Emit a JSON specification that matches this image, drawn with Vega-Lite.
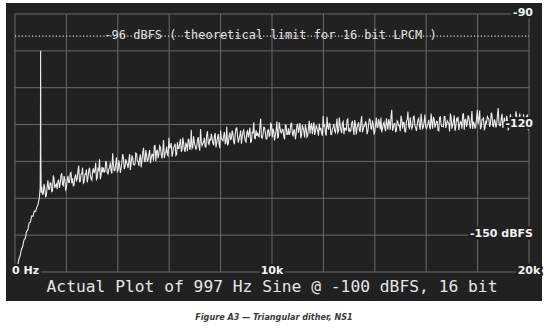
{
  "$schema": "https://vega.github.io/schema/vega-lite/v6.json",
  "width": 536,
  "height": 298,
  "autosize": {"type": "none"},
  "padding": {"left": 6, "top": 3, "right": 8, "bottom": 29},
  "background": "#ffffff",
  "view": {"fill": "#212121", "stroke": null},
  "title": {
    "text": "Figure A3 — Triangular dither, NS1",
    "orient": "bottom",
    "anchor": "middle",
    "baseline": "alphabetic",
    "offset": 19,
    "font": "Liberation Sans Narrow, DejaVu Sans Condensed, sans-serif",
    "fontStyle": "italic",
    "fontWeight": "bold",
    "fontSize": 9,
    "color": "#3a3a3a"
  },
  "datasets": {
    "gx": [{"g":0},{"g":2000},{"g":4000},{"g":6000},{"g":8000},{"g":10000},{"g":12000},{"g":14000},{"g":16000},{"g":18000},{"g":20000}],
    "gy": [{"g":-160},{"g":-150},{"g":-140},{"g":-130},{"g":-120},{"g":-110},{"g":-100},{"g":-90}],
    "rlab": [{"t":"-90","d":-90},{"t":"-120","d":-120},{"t":"-150 dBFS","d":-150}],
    "blab": [{"t":"10k","f":10000},{"t":"20k","f":20000}],
    "zlab": [{"t":"0 Hz","f":0}],
    "spec": [
      {"f":0,"d":-159.8},{"f":50,"d":-159.2},{"f":100,"d":-158.3},{"f":150,"d":-156.6},{"f":200,"d":-155.6},{"f":250,"d":-153.9},{"f":300,"d":-153.1},{"f":350,"d":-151.3},{"f":400,"d":-150.9},{"f":450,"d":-149.0},{"f":500,"d":-148.6},{"f":550,"d":-146.7},{"f":600,"d":-146.4},{"f":650,"d":-144.8},{"f":700,"d":-144.9},{"f":750,"d":-143.5},{"f":800,"d":-143.6},{"f":850,"d":-142.4},{"f":900,"d":-141.6},{"f":950,"d":-139.8},{"f":980,"d":-137.0},{"f":990,"d":-125.0},{"f":997,"d":-100.0},{"f":1005,"d":-128.0},{"f":1020,"d":-138.5},
      {"f":1040,"d":-136.8},{"f":1100,"d":-138.8},{"f":1160,"d":-137.2},{"f":1220,"d":-139.2},{"f":1280,"d":-135.1},{"f":1340,"d":-137.6},{"f":1400,"d":-135.9},{"f":1460,"d":-138.0},{"f":1520,"d":-134.8},{"f":1580,"d":-136.5},
      {"f":1640,"d":-137.5},{"f":1700,"d":-135.1},{"f":1760,"d":-136.0},{"f":1820,"d":-133.2},{"f":1880,"d":-136.6},{"f":1940,"d":-134.9},{"f":2000,"d":-137.3},{"f":2060,"d":-133.9},{"f":2120,"d":-135.7},{"f":2180,"d":-133.0},
      {"f":2240,"d":-134.6},{"f":2300,"d":-136.4},{"f":2360,"d":-133.5},{"f":2420,"d":-134.8},{"f":2480,"d":-131.1},{"f":2540,"d":-135.4},{"f":2600,"d":-133.4},{"f":2660,"d":-135.9},{"f":2720,"d":-133.5},{"f":2780,"d":-132.2},
      {"f":2840,"d":-134.5},{"f":2900,"d":-131.7},{"f":2960,"d":-134.7},{"f":3020,"d":-132.6},{"f":3080,"d":-133.2},{"f":3140,"d":-130.4},{"f":3200,"d":-134.5},{"f":3260,"d":-132.4},{"f":3320,"d":-134.8},{"f":3380,"d":-131.5},
      {"f":3440,"d":-131.7},{"f":3500,"d":-132.8},{"f":3560,"d":-130.2},{"f":3620,"d":-133.4},{"f":3680,"d":-131.7},{"f":3740,"d":-132.6},{"f":3800,"d":-127.8},{"f":3860,"d":-132.5},{"f":3920,"d":-130.5},{"f":3980,"d":-132.8},
      {"f":4040,"d":-129.7},{"f":4100,"d":-133.1},{"f":4160,"d":-130.2},{"f":4220,"d":-129.0},{"f":4280,"d":-131.5},{"f":4340,"d":-130.2},{"f":4400,"d":-131.8},{"f":4460,"d":-128.0},{"f":4520,"d":-130.5},{"f":4580,"d":-129.1},
      {"f":4640,"d":-131.0},{"f":4700,"d":-127.7},{"f":4760,"d":-129.8},{"f":4820,"d":-131.2},{"f":4880,"d":-128.1},{"f":4940,"d":-129.8},{"f":5000,"d":-126.3},{"f":5060,"d":-130.2},{"f":5120,"d":-128.3},{"f":5180,"d":-129.5},
      {"f":5240,"d":-126.9},{"f":5300,"d":-129.1},{"f":5360,"d":-128.1},{"f":5420,"d":-125.8},{"f":5480,"d":-129.9},{"f":5540,"d":-127.0},{"f":5600,"d":-127.9},{"f":5660,"d":-126.2},{"f":5720,"d":-129.2},{"f":5780,"d":-124.2},
      {"f":5840,"d":-127.8},{"f":5900,"d":-126.0},{"f":5960,"d":-128.5},{"f":6020,"d":-126.5},{"f":6080,"d":-125.0},{"f":6140,"d":-127.8},{"f":6200,"d":-125.9},{"f":6260,"d":-128.4},{"f":6320,"d":-124.8},{"f":6380,"d":-126.5},
      {"f":6440,"d":-123.9},{"f":6500,"d":-126.8},{"f":6560,"d":-125.0},{"f":6620,"d":-127.4},{"f":6680,"d":-125.4},{"f":6740,"d":-124.0},{"f":6800,"d":-126.8},{"f":6860,"d":-121.4},{"f":6920,"d":-126.1},{"f":6980,"d":-124.9},
      {"f":7040,"d":-126.8},{"f":7100,"d":-124.2},{"f":7160,"d":-126.0},{"f":7220,"d":-121.2},{"f":7280,"d":-125.7},{"f":7340,"d":-124.6},{"f":7400,"d":-126.1},{"f":7460,"d":-122.7},{"f":7520,"d":-125.1},{"f":7580,"d":-123.8},
      {"f":7640,"d":-122.5},{"f":7700,"d":-125.0},{"f":7760,"d":-123.0},{"f":7820,"d":-126.2},{"f":7880,"d":-123.6},{"f":7940,"d":-125.2},{"f":8000,"d":-121.6},{"f":8060,"d":-124.1},{"f":8120,"d":-123.0},{"f":8180,"d":-125.3},
      {"f":8240,"d":-120.6},{"f":8300,"d":-125.3},{"f":8360,"d":-122.2},{"f":8420,"d":-123.7},{"f":8480,"d":-122.6},{"f":8540,"d":-125.3},{"f":8600,"d":-121.0},{"f":8660,"d":-123.2},{"f":8720,"d":-123.9},{"f":8780,"d":-121.6},
      {"f":8840,"d":-123.4},{"f":8900,"d":-121.5},{"f":8960,"d":-124.4},{"f":9020,"d":-122.1},{"f":9080,"d":-123.5},{"f":9140,"d":-120.8},{"f":9200,"d":-124.6},{"f":9260,"d":-122.4},{"f":9320,"d":-123.7},{"f":9380,"d":-121.5},
      {"f":9440,"d":-122.2},{"f":9500,"d":-123.3},{"f":9560,"d":-118.4},{"f":9620,"d":-123.7},{"f":9680,"d":-120.7},{"f":9740,"d":-122.1},{"f":9800,"d":-123.9},{"f":9860,"d":-121.4},{"f":9920,"d":-123.0},{"f":9980,"d":-120.0},
      {"f":10040,"d":-121.1},{"f":10100,"d":-124.3},{"f":10160,"d":-121.6},{"f":10220,"d":-123.6},{"f":10280,"d":-119.4},{"f":10340,"d":-122.1},{"f":10400,"d":-121.3},{"f":10460,"d":-123.2},{"f":10520,"d":-120.1},{"f":10580,"d":-122.7},
      {"f":10640,"d":-121.0},{"f":10700,"d":-122.2},{"f":10760,"d":-119.5},{"f":10820,"d":-123.2},{"f":10880,"d":-121.4},{"f":10940,"d":-122.6},{"f":11000,"d":-119.9},{"f":11060,"d":-121.0},{"f":11120,"d":-123.7},{"f":11180,"d":-120.1},
      {"f":11240,"d":-121.8},{"f":11300,"d":-120.0},{"f":11360,"d":-123.4},{"f":11420,"d":-120.8},{"f":11480,"d":-122.5},{"f":11540,"d":-119.6},{"f":11600,"d":-120.9},{"f":11660,"d":-122.8},{"f":11720,"d":-120.2},{"f":11780,"d":-121.8},
      {"f":11840,"d":-119.7},{"f":11900,"d":-120.9},{"f":11960,"d":-123.0},{"f":12020,"d":-120.4},{"f":12080,"d":-122.3},{"f":12140,"d":-117.9},{"f":12200,"d":-121.4},{"f":12260,"d":-119.9},{"f":12320,"d":-122.7},{"f":12380,"d":-120.7},
      {"f":12440,"d":-121.8},{"f":12500,"d":-120.4},{"f":12560,"d":-122.2},{"f":12620,"d":-118.1},{"f":12680,"d":-121.4},{"f":12740,"d":-119.6},{"f":12800,"d":-122.6},{"f":12860,"d":-121.0},{"f":12920,"d":-118.7},{"f":12980,"d":-121.9},
      {"f":13040,"d":-121.9},{"f":13100,"d":-119.7},{"f":13160,"d":-121.1},{"f":13220,"d":-118.8},{"f":13280,"d":-122.7},{"f":13340,"d":-120.0},{"f":13400,"d":-121.5},{"f":13460,"d":-119.1},{"f":13520,"d":-122.1},{"f":13580,"d":-120.2},
      {"f":13640,"d":-119.1},{"f":13700,"d":-122.6},{"f":13760,"d":-119.9},{"f":13820,"d":-118.7},{"f":13880,"d":-121.3},{"f":13940,"d":-120.1},{"f":14000,"d":-121.9},{"f":14060,"d":-118.1},{"f":14120,"d":-120.7},{"f":14180,"d":-119.5},
      {"f":14240,"d":-118.1},{"f":14300,"d":-121.1},{"f":14360,"d":-119.4},{"f":14420,"d":-121.8},{"f":14480,"d":-119.9},{"f":14540,"d":-118.5},{"f":14600,"d":-121.4},{"f":14660,"d":-116.0},{"f":14720,"d":-120.8},{"f":14780,"d":-119.7},
      {"f":14840,"d":-121.6},{"f":14900,"d":-119.3},{"f":14960,"d":-120.3},{"f":15020,"d":-117.6},{"f":15080,"d":-121.1},{"f":15140,"d":-119.5},{"f":15200,"d":-122.0},{"f":15260,"d":-118.6},{"f":15320,"d":-120.6},{"f":15380,"d":-118.0},
      {"f":15440,"d":-121.1},{"f":15500,"d":-117.9},{"f":15560,"d":-120.2},{"f":15620,"d":-121.7},{"f":15680,"d":-118.7},{"f":15740,"d":-120.5},{"f":15800,"d":-117.1},{"f":15860,"d":-121.1},{"f":15920,"d":-119.3},{"f":15980,"d":-120.7},
      {"f":16040,"d":-120.4},{"f":16100,"d":-118.7},{"f":16160,"d":-121.3},{"f":16220,"d":-119.3},{"f":16280,"d":-117.9},{"f":16340,"d":-120.8},{"f":16400,"d":-119.1},{"f":16460,"d":-121.6},{"f":16520,"d":-118.1},{"f":16580,"d":-119.9},
      {"f":16640,"d":-120.5},{"f":16700,"d":-117.8},{"f":16760,"d":-120.9},{"f":16820,"d":-119.0},{"f":16880,"d":-119.7},{"f":16940,"d":-117.0},{"f":17000,"d":-121.1},{"f":17060,"d":-119.1},{"f":17120,"d":-121.7},{"f":17180,"d":-118.5},
      {"f":17240,"d":-117.9},{"f":17300,"d":-120.2},{"f":17360,"d":-119.4},{"f":17420,"d":-117.2},{"f":17480,"d":-121.4},{"f":17540,"d":-118.6},{"f":17600,"d":-119.6},{"f":17660,"d":-118.0},{"f":17720,"d":-121.1},{"f":17780,"d":-116.3},
      {"f":17840,"d":-119.2},{"f":17900,"d":-121.1},{"f":17960,"d":-118.3},{"f":18020,"d":-119.8},{"f":18080,"d":-116.2},{"f":18140,"d":-120.6},{"f":18200,"d":-118.7},{"f":18260,"d":-121.3},{"f":18320,"d":-119.0},{"f":18380,"d":-117.8},
      {"f":18440,"d":-118.6},{"f":18500,"d":-119.8},{"f":18560,"d":-117.4},{"f":18620,"d":-120.7},{"f":18680,"d":-119.1},{"f":18740,"d":-120.1},{"f":18800,"d":-115.5},{"f":18860,"d":-120.3},{"f":18920,"d":-118.4},{"f":18980,"d":-120.9},
      {"f":19040,"d":-118.1},{"f":19100,"d":-120.3},{"f":19160,"d":-118.9},{"f":19220,"d":-121.1},{"f":19280,"d":-117.2},{"f":19340,"d":-119.8},{"f":19400,"d":-118.3},{"f":19460,"d":-120.6},{"f":19520,"d":-117.6},{"f":19580,"d":-119.5},
      {"f":19640,"d":-117.0},{"f":19700,"d":-120.0},{"f":19760,"d":-118.3},{"f":19820,"d":-120.8},{"f":19880,"d":-118.9},{"f":19940,"d":-117.5},{"f":20000,"d":-120.4},
      {"f":1070,"d":-138.9},{"f":1130,"d":-136.1},{"f":1190,"d":-139.7},{"f":1250,"d":-136.9},{"f":1310,"d":-137.5},{"f":1370,"d":-135.8},{"f":1430,"d":-138.2},{"f":1490,"d":-133.8},{"f":1550,"d":-137.2},{"f":1610,"d":-136.1},
      {"f":1670,"d":-135.4},{"f":1730,"d":-137.2},{"f":1790,"d":-133.8},{"f":1850,"d":-136.3},{"f":1910,"d":-134.0},{"f":1970,"d":-137.7},{"f":2030,"d":-135.1},{"f":2090,"d":-135.7},{"f":2150,"d":-133.2},{"f":2210,"d":-135.9},
      {"f":2270,"d":-136.6},{"f":2330,"d":-134.3},{"f":2390,"d":-135.2},{"f":2450,"d":-132.5},{"f":2510,"d":-135.5},{"f":2570,"d":-133.4},{"f":2630,"d":-131.7},{"f":2690,"d":-135.6},{"f":2750,"d":-133.5},{"f":2810,"d":-135.7},
      {"f":2870,"d":-132.5},{"f":2930,"d":-133.7},{"f":2990,"d":-135.1},{"f":3050,"d":-131.9},{"f":3110,"d":-132.5},{"f":3170,"d":-134.9},{"f":3230,"d":-132.0},{"f":3290,"d":-129.4},{"f":3350,"d":-133.7},{"f":3410,"d":-132.9},
      {"f":3470,"d":-132.9},{"f":3530,"d":-130.1},{"f":3590,"d":-133.1},{"f":3650,"d":-132.2},{"f":3710,"d":-130.3},{"f":3770,"d":-133.3},{"f":3830,"d":-130.9},{"f":3890,"d":-132.4},{"f":3950,"d":-128.9},{"f":4010,"d":-132.5},
      {"f":4070,"d":-131.0},{"f":4130,"d":-131.8},{"f":4190,"d":-128.0},{"f":4250,"d":-132.1},{"f":4310,"d":-129.4},{"f":4370,"d":-130.8},{"f":4430,"d":-129.8},{"f":4490,"d":-132.3},{"f":4550,"d":-128.4},{"f":4610,"d":-130.8},
      {"f":4670,"d":-130.8},{"f":4730,"d":-127.9},{"f":4790,"d":-130.0},{"f":4850,"d":-129.2},{"f":4910,"d":-131.6},{"f":4970,"d":-127.7},{"f":5030,"d":-129.7},{"f":5090,"d":-126.9},{"f":5150,"d":-130.1},{"f":5210,"d":-128.0},
      {"f":5270,"d":-130.5},{"f":5330,"d":-128.1},{"f":5390,"d":-129.8},{"f":5450,"d":-125.7},{"f":5510,"d":-127.2},{"f":5570,"d":-129.1},{"f":5630,"d":-125.8},{"f":5690,"d":-128.2},{"f":5750,"d":-127.1},{"f":5810,"d":-129.1},
      {"f":5870,"d":-127.6},{"f":5930,"d":-128.2},{"f":5990,"d":-123.6},{"f":6050,"d":-126.0},{"f":6110,"d":-128.7},{"f":6170,"d":-126.1},{"f":6230,"d":-125.2},{"f":6290,"d":-128.1},{"f":6350,"d":-126.5},{"f":6410,"d":-125.1},
      {"f":6470,"d":-127.4},{"f":6530,"d":-123.5},{"f":6590,"d":-126.8},{"f":6650,"d":-125.1},{"f":6710,"d":-127.2},{"f":6770,"d":-124.1},{"f":6830,"d":-125.8},{"f":6890,"d":-126.5},{"f":6950,"d":-123.2},{"f":7010,"d":-125.8},
      {"f":7070,"d":-126.1},{"f":7130,"d":-123.4},{"f":7190,"d":-127.1},{"f":7250,"d":-124.5},{"f":7310,"d":-125.2},{"f":7370,"d":-123.6},{"f":7430,"d":-126.1},{"f":7490,"d":-121.8},{"f":7550,"d":-125.4},{"f":7610,"d":-124.4},
      {"f":7670,"d":-123.8},{"f":7730,"d":-125.6},{"f":7790,"d":-122.3},{"f":7850,"d":-124.9},{"f":7910,"d":-122.6},{"f":7970,"d":-126.4},{"f":8030,"d":-123.8},{"f":8090,"d":-124.4},{"f":8150,"d":-122.0},{"f":8210,"d":-124.8},
      {"f":8270,"d":-125.5},{"f":8330,"d":-123.2},{"f":8390,"d":-124.2},{"f":8450,"d":-121.6},{"f":8510,"d":-124.7},{"f":8570,"d":-122.6},{"f":8630,"d":-120.9},{"f":8690,"d":-124.9},{"f":8750,"d":-122.9},{"f":8810,"d":-125.2},
      {"f":8870,"d":-122.0},{"f":8930,"d":-123.3},{"f":8990,"d":-124.7},{"f":9050,"d":-121.7},{"f":9110,"d":-122.3},{"f":9170,"d":-124.8},{"f":9230,"d":-121.9},{"f":9290,"d":-119.4},{"f":9350,"d":-123.8},{"f":9410,"d":-123.1},
      {"f":9470,"d":-123.1},{"f":9530,"d":-120.4},{"f":9590,"d":-123.5},{"f":9650,"d":-122.7},{"f":9710,"d":-120.8},{"f":9770,"d":-123.9},{"f":9830,"d":-121.6},{"f":9890,"d":-123.2},{"f":9950,"d":-119.7},{"f":10010,"d":-123.5},
      {"f":10070,"d":-122.0},{"f":10130,"d":-122.9},{"f":10190,"d":-119.2},{"f":10250,"d":-123.4},{"f":10310,"d":-120.8},{"f":10370,"d":-122.3},{"f":10430,"d":-121.4},{"f":10490,"d":-124.0},{"f":10550,"d":-120.2},{"f":10610,"d":-122.7},
      {"f":10670,"d":-122.8},{"f":10730,"d":-120.0},{"f":10790,"d":-122.2},{"f":10850,"d":-121.5},{"f":10910,"d":-124.0},{"f":10970,"d":-120.2},{"f":11030,"d":-122.3},{"f":11090,"d":-119.6},{"f":11150,"d":-122.9},{"f":11210,"d":-120.9},
      {"f":11270,"d":-123.5},{"f":11330,"d":-121.2},{"f":11390,"d":-123.0},{"f":11450,"d":-119.0},{"f":11510,"d":-120.6},{"f":11570,"d":-122.6},{"f":11630,"d":-119.4},{"f":11690,"d":-121.9},{"f":11750,"d":-120.9},{"f":11810,"d":-123.0},
      {"f":11870,"d":-121.6},{"f":11930,"d":-122.3},{"f":11990,"d":-117.7},{"f":12050,"d":-120.2},{"f":12110,"d":-123.0},{"f":12170,"d":-120.5},{"f":12230,"d":-119.7},{"f":12290,"d":-122.7},{"f":12350,"d":-121.2},{"f":12410,"d":-119.8},
      {"f":12470,"d":-122.2},{"f":12530,"d":-118.4},{"f":12590,"d":-121.8},{"f":12650,"d":-120.1},{"f":12710,"d":-122.3},{"f":12770,"d":-119.2},{"f":12830,"d":-121.0},{"f":12890,"d":-121.7},{"f":12950,"d":-118.5},{"f":13010,"d":-121.2},
      {"f":13070,"d":-121.6},{"f":13130,"d":-119.0},{"f":13190,"d":-122.8},{"f":13250,"d":-120.1},{"f":13310,"d":-120.9},{"f":13370,"d":-119.4},{"f":13430,"d":-122.0},{"f":13490,"d":-117.7},{"f":13550,"d":-121.3},{"f":13610,"d":-120.4},
      {"f":13670,"d":-119.9},{"f":13730,"d":-121.8},{"f":13790,"d":-118.5},{"f":13850,"d":-121.1},{"f":13910,"d":-118.9},{"f":13970,"d":-122.7},{"f":14030,"d":-120.2},{"f":14090,"d":-120.8},{"f":14150,"d":-118.5},{"f":14210,"d":-121.3},
      {"f":14270,"d":-122.1},{"f":14330,"d":-119.9},{"f":14390,"d":-120.9},{"f":14450,"d":-118.3},{"f":14510,"d":-121.4},{"f":14570,"d":-119.4},{"f":14630,"d":-117.8},{"f":14690,"d":-121.7},{"f":14750,"d":-119.8},{"f":14810,"d":-122.1},
      {"f":14870,"d":-119.0},{"f":14930,"d":-120.3},{"f":14990,"d":-121.8},{"f":15050,"d":-118.7},{"f":15110,"d":-119.4},{"f":15170,"d":-121.9},{"f":15230,"d":-119.1},{"f":15290,"d":-116.5},{"f":15350,"d":-121.0},{"f":15410,"d":-120.3},
      {"f":15470,"d":-120.4},{"f":15530,"d":-117.7},{"f":15590,"d":-120.9},{"f":15650,"d":-120.1},{"f":15710,"d":-118.3},{"f":15770,"d":-121.4},{"f":15830,"d":-119.1},{"f":15890,"d":-120.7},{"f":15950,"d":-117.3},{"f":16010,"d":-121.1},
      {"f":16070,"d":-119.7},{"f":16130,"d":-120.6},{"f":16190,"d":-117.0},{"f":16250,"d":-121.1},{"f":16310,"d":-118.5},{"f":16370,"d":-120.0},{"f":16430,"d":-119.2},{"f":16490,"d":-121.7},{"f":16550,"d":-117.9},{"f":16610,"d":-120.5},
      {"f":16670,"d":-120.6},{"f":16730,"d":-117.8},{"f":16790,"d":-120.1},{"f":16850,"d":-119.4},{"f":16910,"d":-121.9},{"f":16970,"d":-118.1},{"f":17030,"d":-120.2},{"f":17090,"d":-117.5},{"f":17150,"d":-120.8},{"f":17210,"d":-118.9},
      {"f":17270,"d":-121.5},{"f":17330,"d":-119.2},{"f":17390,"d":-121.1},{"f":17450,"d":-117.1},{"f":17510,"d":-118.7},{"f":17570,"d":-120.6},{"f":17630,"d":-117.5},{"f":17690,"d":-120.0},{"f":17750,"d":-119.0},{"f":17810,"d":-121.2},
      {"f":17870,"d":-119.8},{"f":17930,"d":-120.5},{"f":17990,"d":-116.0},{"f":18050,"d":-118.5},{"f":18110,"d":-121.3},{"f":18170,"d":-118.7},{"f":18230,"d":-118.0},{"f":18290,"d":-121.0},{"f":18350,"d":-119.5},{"f":18410,"d":-118.2},
      {"f":18470,"d":-120.6},{"f":18530,"d":-116.8},{"f":18590,"d":-120.2},{"f":18650,"d":-118.6},{"f":18710,"d":-120.8},{"f":18770,"d":-117.7},{"f":18830,"d":-119.5},{"f":18890,"d":-120.3},{"f":18950,"d":-117.1},{"f":19010,"d":-119.8},
      {"f":19070,"d":-120.2},{"f":19130,"d":-117.6},{"f":19190,"d":-121.4},{"f":19250,"d":-118.8},{"f":19310,"d":-119.6},{"f":19370,"d":-118.0},{"f":19430,"d":-120.6},{"f":19490,"d":-116.4},{"f":19550,"d":-120.0},{"f":19610,"d":-119.1},
      {"f":19670,"d":-118.6},{"f":19730,"d":-120.5},{"f":19790,"d":-117.2},{"f":19850,"d":-119.9},{"f":19910,"d":-117.7},{"f":19970,"d":-121.5}
    ]
  },
  "layer": [
    {
      "data": {"name": "gx"},
      "mark": {"type": "rule", "color": "#6a6a6a", "strokeWidth": 1},
      "encoding": {
        "x": {"field": "g", "type": "quantitative", "scale": {"domain": [-350, 20506], "nice": false, "zero": false}, "axis": null},
        "y": {"datum": -160, "type": "quantitative", "scale": {"domain": [-167.87, -87.02], "nice": false, "zero": false}, "axis": null},
        "y2": {"datum": -90}
      }
    },
    {
      "data": {"name": "gy"},
      "mark": {"type": "rule", "color": "#6a6a6a", "strokeWidth": 1},
      "encoding": {
        "y": {"field": "g", "type": "quantitative", "axis": null},
        "x": {"datum": 0, "type": "quantitative", "axis": null},
        "x2": {"datum": 20000}
      }
    },
    {
      "data": {"values": [{}]},
      "mark": {"type": "rule", "color": "#d8d8d8", "strokeWidth": 1.2, "strokeDash": [1.2, 2.2]},
      "encoding": {
        "y": {"datum": -96, "type": "quantitative", "axis": null},
        "x": {"datum": 0, "type": "quantitative", "axis": null},
        "x2": {"datum": 20000}
      }
    },
    {
      "data": {"values": [{}]},
      "mark": {"type": "text", "text": "-96 dBFS ( theoretical limit for 16 bit LPCM )", "font": "DejaVu Sans Mono", "fontSize": 12, "align": "center", "baseline": "alphabetic", "fill": "#e0e0e0"},
      "encoding": {
        "x": {"datum": 9940, "type": "quantitative", "axis": null},
        "y": {"datum": -96.9, "type": "quantitative", "axis": null}
      }
    },
    {
      "data": {"name": "spec"},
      "mark": {"type": "line", "color": "#ececec", "strokeWidth": 1.1, "interpolate": "linear"},
      "encoding": {
        "x": {"field": "f", "type": "quantitative", "axis": null},
        "y": {"field": "d", "type": "quantitative", "axis": null}
      }
    },
    {
      "data": {"name": "rlab"},
      "mark": {"type": "text", "font": "DejaVu Sans", "fontWeight": "bold", "fontSize": 11, "align": "right", "baseline": "alphabetic", "dx": 4, "dy": 2, "fill": "#212121", "stroke": "#212121", "strokeWidth": 5, "strokeJoin": "round"},
      "encoding": {
        "x": {"datum": 20000, "type": "quantitative", "axis": null},
        "y": {"field": "d", "type": "quantitative", "axis": null},
        "text": {"field": "t"}
      }
    },
    {
      "data": {"name": "rlab"},
      "mark": {"type": "text", "font": "DejaVu Sans", "fontWeight": "bold", "fontSize": 11, "align": "right", "baseline": "alphabetic", "dx": 4, "dy": 2, "fill": "#f2f2f2"},
      "encoding": {
        "x": {"datum": 20000, "type": "quantitative", "axis": null},
        "y": {"field": "d", "type": "quantitative", "axis": null},
        "text": {"field": "t"}
      }
    },
    {
      "data": {"name": "blab"},
      "mark": {"type": "text", "font": "DejaVu Sans", "fontWeight": "bold", "fontSize": 11, "align": "center", "baseline": "alphabetic", "dy": 2.5, "fill": "#212121", "stroke": "#212121", "strokeWidth": 5, "strokeJoin": "round"},
      "encoding": {
        "x": {"field": "f", "type": "quantitative", "axis": null},
        "y": {"datum": -160, "type": "quantitative", "axis": null},
        "text": {"field": "t"}
      }
    },
    {
      "data": {"name": "blab"},
      "mark": {"type": "text", "font": "DejaVu Sans", "fontWeight": "bold", "fontSize": 11, "align": "center", "baseline": "alphabetic", "dy": 2.5, "fill": "#f2f2f2"},
      "encoding": {
        "x": {"field": "f", "type": "quantitative", "axis": null},
        "y": {"datum": -160, "type": "quantitative", "axis": null},
        "text": {"field": "t"}
      }
    },
    {
      "data": {"name": "zlab"},
      "mark": {"type": "text", "font": "DejaVu Sans", "fontWeight": "bold", "fontSize": 11, "align": "left", "baseline": "alphabetic", "dx": -3, "dy": 2.5, "fill": "#212121", "stroke": "#212121", "strokeWidth": 5, "strokeJoin": "round"},
      "encoding": {
        "x": {"field": "f", "type": "quantitative", "axis": null},
        "y": {"datum": -160, "type": "quantitative", "axis": null},
        "text": {"field": "t"}
      }
    },
    {
      "data": {"name": "zlab"},
      "mark": {"type": "text", "font": "DejaVu Sans", "fontWeight": "bold", "fontSize": 11, "align": "left", "baseline": "alphabetic", "dx": -3, "dy": 2.5, "fill": "#f2f2f2"},
      "encoding": {
        "x": {"field": "f", "type": "quantitative", "axis": null},
        "y": {"datum": -160, "type": "quantitative", "axis": null},
        "text": {"field": "t"}
      }
    },
    {
      "data": {"values": [{}]},
      "mark": {"type": "text", "text": "Actual Plot of 997 Hz Sine @ -100 dBFS, 16 bit", "font": "DejaVu Sans Mono", "fontSize": 16.3, "align": "center", "baseline": "alphabetic", "fill": "#e6e6e6"},
      "encoding": {
        "x": {"datum": 10000, "type": "quantitative", "axis": null},
        "y": {"datum": -165.4, "type": "quantitative", "axis": null}
      }
    }
  ]
}
